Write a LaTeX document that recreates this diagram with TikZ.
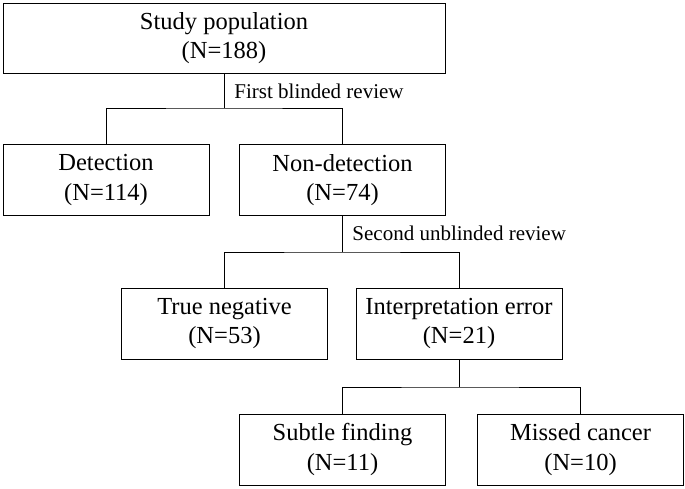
\documentclass[tikz,border=0pt]{standalone}
\usepackage{fontspec}
\setmainfont{Liberation Serif}
\begin{document}
\begin{tikzpicture}[x=1pt,y=-1pt,line width=0.9pt,
  box/.style={draw,rectangle,minimum width=206pt,minimum height=71pt,align=center,inner sep=0pt,font=\fontsize{24.5}{29.4}\selectfont},
  lbl/.style={anchor=west,inner sep=0pt,font=\fontsize{21}{25}\selectfont}]
\useasboundingbox (0,0) rectangle (685,488);
\node[box,minimum width=442pt,minimum height=70pt] (pop) at (224,38) {Study population\\(N=188)};
\node[box] (det) at (106,180) {Detection\\(N=114)};
\node[box] (nondet) at (342.5,180) {Non-detection\\(N=74)};
\node[box] (trueneg) at (224.5,323.5) {True negative\\(N=53)};
\node[box] (interr) at (459,323.5) {Interpretation error\\(N=21)};
\node[box] (subtle) at (342.5,449.5) {Subtle finding\\(N=11)};
\node[box] (missed) at (580.5,449.5) {Missed cancer\\(N=10)};
% branch points
\coordinate (j1) at (224,108);
\coordinate (j2) at (342.5,252);
\coordinate (j3) at (459,387);
\draw (pop.south) -- (j1);
\draw (det.north) |- (j1) -| (nondet.north);
\draw (nondet.south) -- (j2);
\draw (trueneg.north) |- (j2) -| (interr.north);
\draw (interr.south) -- (j3);
\draw (subtle.north) |- (j3) -| (missed.north);
% review labels
\node[lbl] (rev1) at (234,91) {First blinded review};
\node[lbl] (rev2) at (352,233) {Second unblinded review};
\end{tikzpicture}
\end{document}
